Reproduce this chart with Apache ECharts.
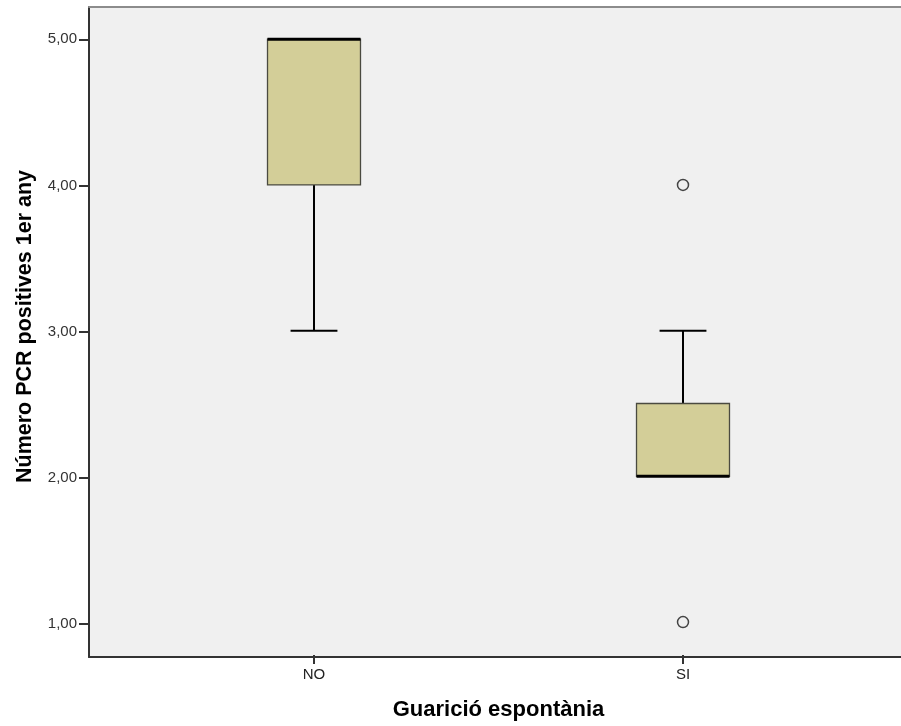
<!DOCTYPE html>
<html>
<head>
<meta charset="utf-8">
<script src="https://cdn.jsdelivr.net/npm/echarts@6/dist/echarts.min.js"></script>
<style>html,body{margin:0;padding:0;background:#fff}#c{width:901px;height:726px}</style>
</head>
<body>
<div id="c"></div>
<script>
// ---- data ----
const categories = ['NO', 'SI'];
const whiskerLow = [3, 2];
const quartile1 = [4, 2];
const medians = [5, 2];
const quartile3 = [5, 2.5];
const whiskerHigh = [5, 3];
const outlierCategories = ['SI', 'SI'];
const outlierValues = [4, 1];
const yTicks = [1, 2, 3, 4, 5];
const xTitle = 'Guarició espontània';
const yTitle = 'Número PCR positives 1er any';

const boxData = categories.map((c, i) => [i, whiskerLow[i], quartile1[i], medians[i], quartile3[i], whiskerHigh[i]]);
const outlierData = outlierCategories.map((c, i) => [c, outlierValues[i]]);

const Y_MIN = 0.774, Y_MAX = 5.221;
const FONT = 'Liberation Sans, Arial, sans-serif';

const chart = echarts.init(document.getElementById('c'), null, {renderer: 'canvas'});

function renderBox(params, api) {
  const x = api.value(0);
  const lo = api.coord([x, api.value(1)]);
  const q1 = api.coord([x, api.value(2)]);
  const md = api.coord([x, api.value(3)]);
  const q3 = api.coord([x, api.value(4)]);
  const hi = api.coord([x, api.value(5)]);
  const band = api.size([1, 0])[0];
  const cx = lo[0];
  const bw = band * 0.252;
  const cw = band * 0.127;
  const children = [];
  const wStyle = {stroke: '#000', lineWidth: 2};
  if (hi[1] < q3[1] - 0.5) {
    children.push({type: 'line', shape: {x1: cx, y1: q3[1], x2: cx, y2: hi[1]}, style: wStyle});
    children.push({type: 'line', shape: {x1: cx - cw / 2, y1: hi[1], x2: cx + cw / 2, y2: hi[1]}, style: wStyle});
  }
  if (lo[1] > q1[1] + 0.5) {
    children.push({type: 'line', shape: {x1: cx, y1: q1[1], x2: cx, y2: lo[1]}, style: wStyle});
    children.push({type: 'line', shape: {x1: cx - cw / 2, y1: lo[1], x2: cx + cw / 2, y2: lo[1]}, style: wStyle});
  }
  children.push({type: 'rect', shape: {x: cx - bw / 2, y: q3[1], width: bw, height: q1[1] - q3[1]},
    style: {fill: '#D3CE98', stroke: '#4a4a40', lineWidth: 1.3}});
  children.push({type: 'line', shape: {x1: cx - bw / 2, y1: md[1], x2: cx + bw / 2, y2: md[1]},
    style: {stroke: '#000', lineWidth: 3}});
  return {type: 'group', children: children};
}

const option = {
  backgroundColor: '#ffffff',
  animation: false,
  grid: [
    {left: 89, top: 7, right: 0, bottom: 69, show: true, backgroundColor: '#F0F0F0', borderWidth: 0, containLabel: false},
    {left: 129.5, top: 7, right: 33.5, bottom: 69, containLabel: false}
  ],
  xAxis: [
    {gridIndex: 0, type: 'value', min: 0, max: 1, position: 'bottom',
      axisLine: {show: true, lineStyle: {color: '#333', width: 2}},
      axisTick: {show: false}, axisLabel: {show: false}, splitLine: {show: false}},
    {gridIndex: 0, type: 'value', min: 0, max: 1, position: 'top',
      axisLine: {show: true, lineStyle: {color: '#8c8c8c', width: 2}},
      axisTick: {show: false}, axisLabel: {show: false}, splitLine: {show: false}},
    {gridIndex: 1, type: 'category', data: categories, position: 'bottom',
      axisLine: {show: false},
      axisTick: {show: true, alignWithLabel: true, length: 9, lineStyle: {color: '#333', width: 2}},
      axisLabel: {fontSize: 15, fontFamily: FONT, color: '#222', margin: 12},
      splitLine: {show: false},
      name: xTitle, nameLocation: 'middle', nameGap: 44,
      nameTextStyle: {fontSize: 22, fontWeight: 'bold', fontFamily: FONT, color: '#000'}}
  ],
  yAxis: [
    {gridIndex: 0, type: 'value', min: Y_MIN, max: Y_MAX,
      axisLine: {show: true, lineStyle: {color: '#333', width: 2}},
      axisTick: {show: true, customValues: yTicks, length: 10, lineStyle: {color: '#333', width: 2}},
      axisLabel: {show: true, customValues: yTicks, fontSize: 15, fontFamily: FONT, color: '#333', margin: 12,
        formatter: v => Number(v).toFixed(2).replace('.', ',')},
      splitLine: {show: false},
      name: yTitle, nameLocation: 'middle', nameGap: 53,
      nameTextStyle: {fontSize: 21.5, fontWeight: 'bold', fontFamily: FONT, color: '#000', padding: [0, 0, 0, 11]}},
    {gridIndex: 1, type: 'value', min: Y_MIN, max: Y_MAX, show: false, splitLine: {show: false}}
  ],
  series: [
    {type: 'custom', xAxisIndex: 2, yAxisIndex: 1, renderItem: renderBox, data: boxData,
      encode: {x: 0, y: [1, 2, 3, 4, 5]}, clip: false},
    {type: 'scatter', xAxisIndex: 2, yAxisIndex: 1, data: outlierData, symbol: 'circle', symbolSize: 11,
      itemStyle: {color: '#F0F0F0', borderColor: '#444', borderWidth: 1.5, opacity: 1}}
  ]
};
chart.setOption(option);
</script>
</body>
</html>
